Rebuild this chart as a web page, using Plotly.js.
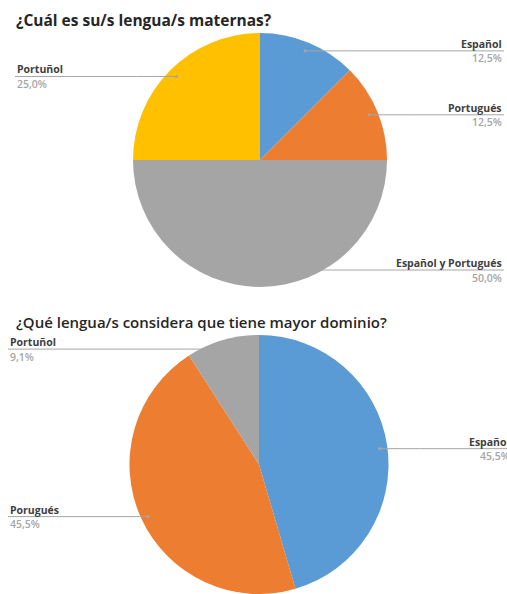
<!DOCTYPE html>
<html>
<head>
<meta charset="utf-8">
<script src="https://cdn.plot.ly/plotly-3.0.1.min.js"></script>
<style>html,body{margin:0;padding:0;background:#fff;}#chart{width:507px;height:594px;}</style>
</head>
<body>
<div id="chart"></div>
<script>
// ---- Data ----
const title1 = "¿Cuál es su/s lengua/s maternas?";
const labels1 = ["Español", "Portugués", "Español y Portugués", "Portuñol"];
const values1 = [12.5, 12.5, 50.0, 25.0];
const pct1 = ["12,5%", "12,5%", "50,0%", "25,0%"];

const title2 = "¿Qué lengua/s considera que tiene mayor dominio?";
const labels2 = ["Español", "Porugués", "Portuñol"];
const values2 = [45.5, 45.5, 9.1];
const pct2 = ["45,5%", "45,5%", "9,1%"];

// ---- Styling / layout ----
const W = 507, H = 594;
const colors1 = ["#5B9BD5", "#ED7D31", "#A5A5A5", "#FFC000"];
const colors2 = ["#5B9BD5", "#ED7D31", "#A5A5A5"];
const pie1 = {cx: 260, cy: 160, r: 127};
const pie2 = {cx: 259, cy: 466, r: 131};
// label placement per slice: side, edge x, optional line y override
const place1 = [
  {side: "right", edge: 504},
  {side: "right", edge: 504},
  {side: "right", edge: 504, lineY: 270},
  {side: "left", edge: 15}
];
const place2 = [
  {side: "right", edge: 512},
  {side: "left", edge: 8},
  {side: "left", edge: 8}
];

const px = x => x / W;
const py = y => 1 - y / H;

function domainOf(p) {
  return {x: [px(p.cx - p.r), px(p.cx + p.r)], y: [py(p.cy + p.r), py(p.cy - p.r)]};
}

const shapes = [], annotations = [];

function addLabels(p, labels, values, pcts, place) {
  const total = values.reduce((a, b) => a + b, 0);
  let cum = 0;
  values.forEach((v, i) => {
    const mid = (cum + v / 2) / total * 2 * Math.PI;
    cum += v;
    const dx = p.cx + 0.93 * p.r * Math.sin(mid);
    const dy = p.cy - 0.93 * p.r * Math.cos(mid);
    const pl = place[i];
    const ly = pl.lineY !== undefined ? pl.lineY : dy;
    const dir = pl.side === "right" ? 1 : -1;
    const kneeX = dx + dir * 40;
    shapes.push({
      type: "path", xref: "paper", yref: "paper",
      path: `M ${px(dx)} ${py(dy)} L ${px(kneeX)} ${py(ly)} L ${px(pl.edge)} ${py(ly)}`,
      line: {color: "#A6A6A6", width: 1}
    });
    shapes.push({
      type: "circle", xref: "paper", yref: "paper",
      x0: px(dx - 1.6), x1: px(dx + 1.6), y0: py(dy + 1.6), y1: py(dy - 1.6),
      fillcolor: "#A6A6A6", line: {width: 0}
    });
    const xa = pl.side === "right" ? "right" : "left";
    annotations.push({
      xref: "paper", yref: "paper", x: px(pl.edge), y: py(ly - 7),
      xanchor: xa, yanchor: "middle", showarrow: false, text: labels[i],
      font: {family: "Open Sans, sans-serif", size: 10.5, color: "#404040", weight: 700}
    });
    annotations.push({
      xref: "paper", yref: "paper", x: px(pl.edge), y: py(ly + 7.5),
      xanchor: xa, yanchor: "middle", showarrow: false, text: pcts[i],
      font: {family: "Open Sans, sans-serif", size: 10.5, color: "#A6A6A6", weight: 600}
    });
  });
}

addLabels(pie1, labels1, values1, pct1, place1);
addLabels(pie2, labels2, values2, pct2, place2);

annotations.push({
  xref: "paper", yref: "paper", x: px(14), y: py(20), xanchor: "left", yanchor: "middle",
  showarrow: false, text: title1,
  font: {family: "Open Sans, sans-serif", size: 15.5, color: "#262626", weight: 700}
});
annotations.push({
  xref: "paper", yref: "paper", x: px(14), y: py(322), xanchor: "left", yanchor: "middle",
  showarrow: false, text: title2,
  font: {family: "Open Sans, sans-serif", size: 15, color: "#262626", weight: 600}
});

const traces = [
  {type: "pie", labels: labels1, values: values1, sort: false, direction: "clockwise", rotation: 0,
   marker: {colors: colors1, line: {width: 0}}, textinfo: "none", hoverinfo: "label+percent",
   domain: domainOf(pie1), showlegend: false},
  {type: "pie", labels: labels2, values: values2, sort: false, direction: "clockwise", rotation: 0,
   marker: {colors: colors2, line: {width: 0}}, textinfo: "none", hoverinfo: "label+percent",
   domain: domainOf(pie2), showlegend: false}
];

Plotly.newPlot("chart", traces, {
  width: W, height: H, margin: {l: 0, r: 0, t: 0, b: 0},
  paper_bgcolor: "#fff", showlegend: false, shapes: shapes, annotations: annotations
}, {displayModeBar: false, staticPlot: true});
</script>
</body>
</html>
